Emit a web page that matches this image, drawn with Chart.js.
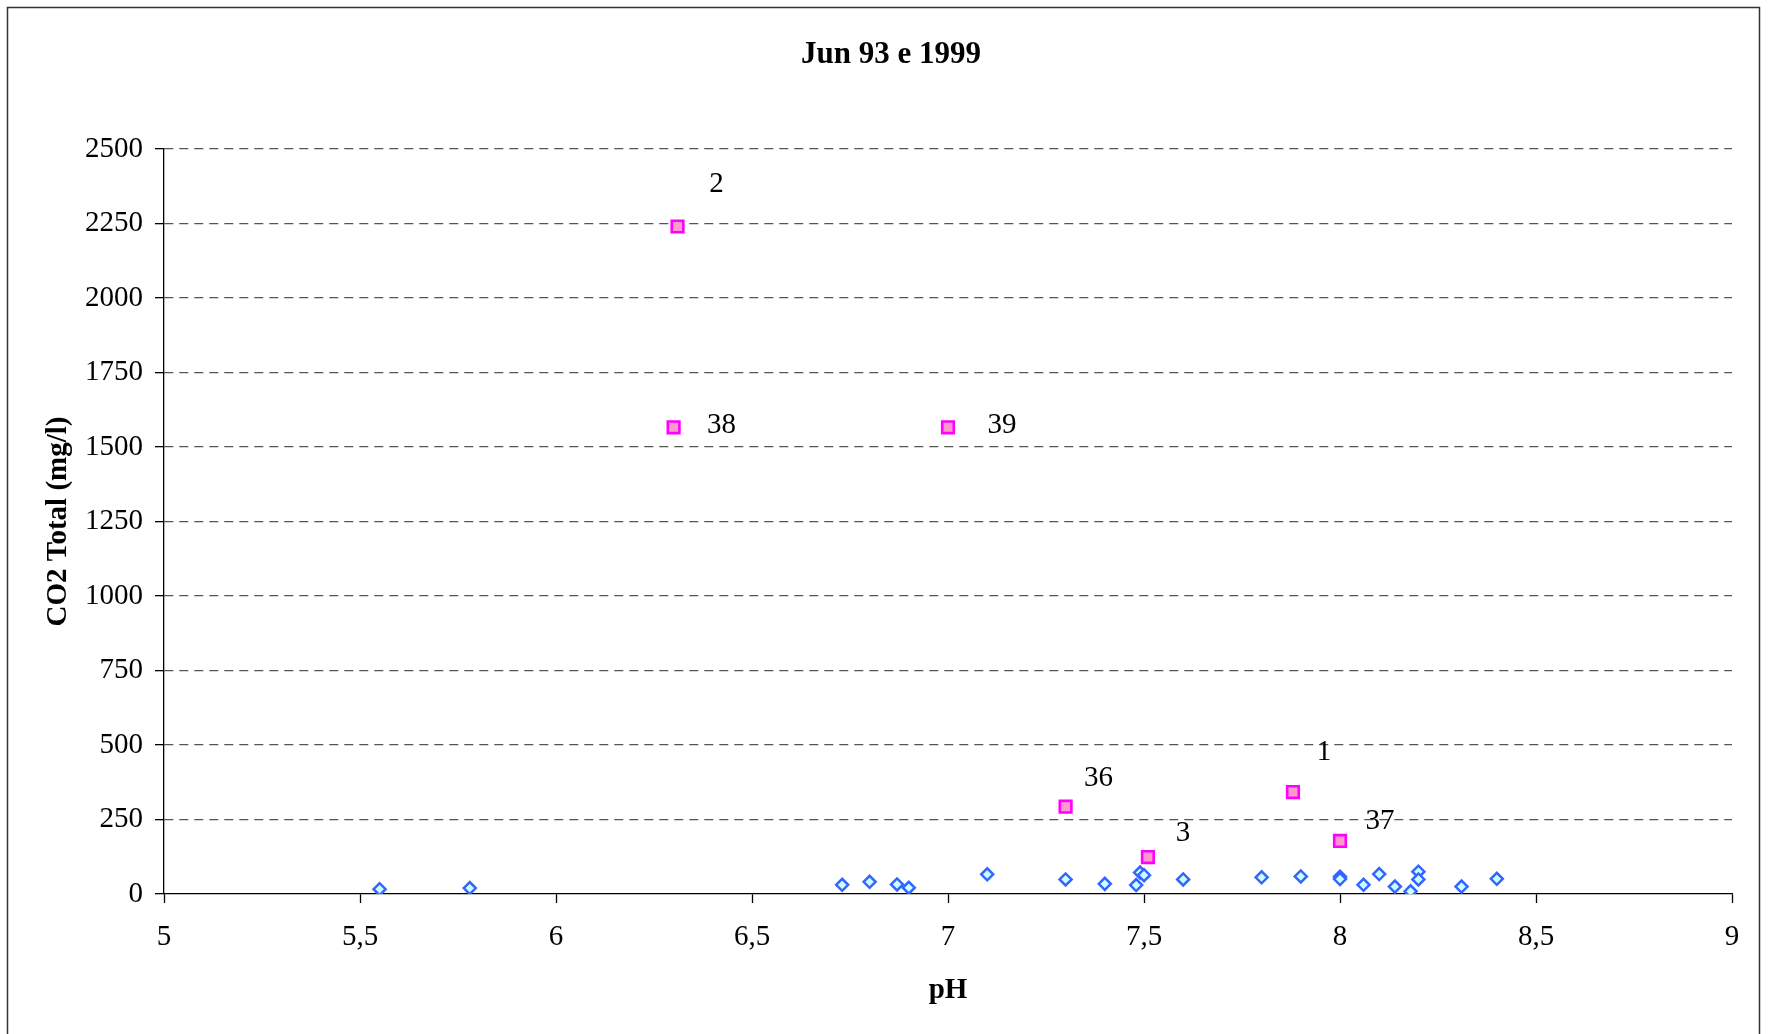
<!DOCTYPE html>
<html>
<head>
<meta charset="utf-8">
<title>Jun 93 e 1999</title>
<script src="https://cdn.jsdelivr.net/npm/chart.js@4.4.1/dist/chart.umd.min.js"></script>
<style>
  html, body { margin: 0; padding: 0; background: #fff; overflow: hidden; }
  #wrap { width: 1768px; height: 1034px; }
</style>
</head>
<body>
<div id="wrap"><canvas id="chart" width="1768" height="1034"></canvas></div>
<script>
// Sampled waters: pH against total CO2 (mg/l)
const chartTitle = 'Jun 93 e 1999';
const xTitle = 'pH';
const yTitle = 'CO2 Total (mg/l)';

// Ordinary samples
const bluePH  = [5.55, 5.78, 6.73, 6.80, 6.87, 6.90, 7.10, 7.30, 7.40, 7.48, 7.49, 7.50, 7.60,
                 7.80, 7.90, 8.00, 8.00, 8.06, 8.10, 8.14, 8.18, 8.20, 8.20, 8.31, 8.40];
const blueCO2 = [16, 20, 31, 41, 32, 21, 66, 49, 34, 30, 72, 63, 49,
                 56, 59, 58, 50, 31, 67, 25, 9, 75, 49, 25, 51];

// High-CO2 samples, tagged with their sample number
const pinkIds = ['1', '2', '3', '36', '37', '38', '39'];
const pinkPH  = [7.88, 6.31, 7.51, 7.30, 8.00, 6.30, 7.00];
const pinkCO2 = [342, 2240, 124, 293, 178, 1566, 1566];

// Axis ranges and tick spacing
const xMin = 5, xMax = 9, xStep = 0.5;
const yMin = 0, yMax = 2500, yStep = 250;

// Where each sample number sits relative to its marker (px)
const labelShift = [[31, -40], [39, -42], [35, -24], [33, -28], [40, -20], [48, -2], [54, -2]];

const toPoints = (xs, ys) => xs.map((x, i) => ({ x: x, y: ys[i] }));

const serif = '"Liberation Serif", "Times New Roman", Times, serif';

// Outer frame and chart heading
const framePlugin = {
  id: 'frame',
  beforeDraw(chart) {
    const ctx = chart.ctx;
    ctx.save();
    ctx.fillStyle = '#ffffff';
    ctx.fillRect(0, 0, chart.width, chart.height);
    ctx.strokeStyle = '#333333';
    ctx.lineWidth = 1.5;
    ctx.strokeRect(7.5, 7.5, 1752, 1060);
    ctx.fillStyle = '#000000';
    ctx.font = 'bold 31px ' + serif;
    ctx.textAlign = 'center';
    ctx.textBaseline = 'middle';
    ctx.fillText(chartTitle, 891, 55);
    ctx.restore();
  }
};

// Sample numbers beside the high-CO2 markers
const idPlugin = {
  id: 'sampleIds',
  afterDatasetsDraw(chart) {
    const meta = chart.getDatasetMeta(1);
    const ctx = chart.ctx;
    ctx.save();
    ctx.fillStyle = '#000000';
    ctx.font = '29px ' + serif;
    ctx.textAlign = 'center';
    ctx.textBaseline = 'middle';
    meta.data.forEach((pt, i) => {
      const s = labelShift[i];
      ctx.fillText(pinkIds[i], pt.x + s[0], pt.y + s[1]);
    });
    ctx.restore();
  }
};

new Chart(document.getElementById('chart'), {
  type: 'scatter',
  data: {
    datasets: [
      {
        label: 'amostras',
        data: toPoints(bluePH, blueCO2),
        pointStyle: 'rectRot',
        pointRadius: 6,
        pointHoverRadius: 6,
        pointBorderWidth: 2.5,
        borderColor: '#3366FF',
        backgroundColor: '#CCFFFF'
      },
      {
        label: 'CO2 elevado',
        data: toPoints(pinkPH, pinkCO2),
        pointStyle: 'rect',
        pointRadius: 8.2,
        pointHoverRadius: 8.2,
        pointBorderWidth: 2.6,
        borderColor: '#FF00FF',
        backgroundColor: '#FF99CC'
      }
    ]
  },
  options: {
    responsive: false,
    animation: false,
    events: [],
    layout: { padding: { top: 149, right: 36, bottom: 0, left: 0 } },
    plugins: {
      legend: { display: false },
      tooltip: { enabled: false },
      title: { display: false }
    },
    scales: {
      x: {
        type: 'linear',
        min: xMin,
        max: xMax,
        afterFit(scale) { scale.height = 140; },
        ticks: {
          stepSize: xStep,
          padding: 17,
          color: '#000',
          font: { family: serif, size: 29 },
          maxRotation: 0,
          callback: v => String(v).replace('.', ',')
        },
        grid: {
          drawOnChartArea: false,
          drawTicks: true,
          tickLength: 9,
          tickColor: '#000',
          tickWidth: 1.3
        },
        border: { display: true, color: '#000', width: 1.3 },
        title: {
          display: true,
          text: xTitle,
          color: '#000',
          font: { family: serif, size: 29, weight: 'bold' },
          padding: { top: 0, bottom: 26 }
        }
      },
      y: {
        type: 'linear',
        min: yMin,
        max: yMax,
        afterFit(scale) { scale.width = 164; },
        ticks: {
          stepSize: yStep,
          padding: 12,
          color: '#000',
          font: { family: serif, size: 29 },
          callback: v => String(v)
        },
        grid: {
          drawOnChartArea: true,
          drawTicks: true,
          tickLength: 9,
          lineWidth: 1.3,
          color: ctx => (ctx.tick && ctx.tick.value === 0 ? 'rgba(0,0,0,0)' : '#555555'),
          tickColor: '#000',
          tickWidth: 1.3
        },
        border: { display: true, color: '#000', width: 1.3, dash: [9, 6] },
        title: {
          display: true,
          text: yTitle,
          color: '#000',
          font: { family: serif, size: 29, weight: 'bold' },
          padding: { top: 41, bottom: 0 }
        }
      }
    }
  },
  plugins: [framePlugin, idPlugin]
});
</script>
</body>
</html>
